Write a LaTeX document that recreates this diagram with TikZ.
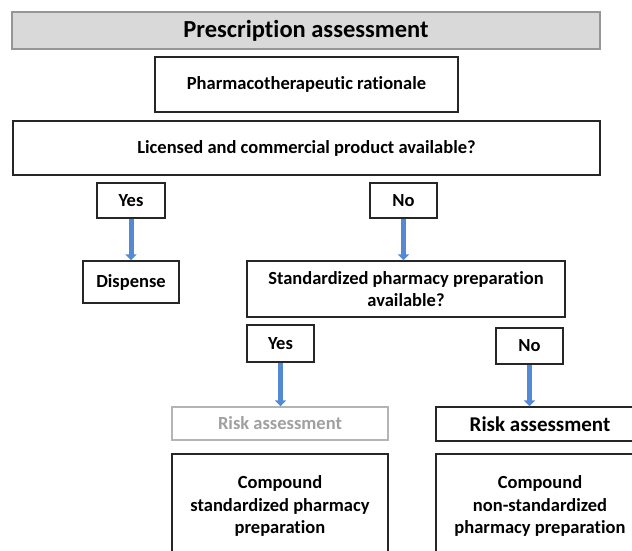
\documentclass[tikz,border=0pt]{standalone}
\usepackage{fontspec}
\setmainfont{Carlito}[Ligatures=NoCommon]
\usetikzlibrary{arrows.meta}
\definecolor{titlefill}{RGB}{217,217,217}
\definecolor{titledraw}{RGB}{150,150,150}
\definecolor{riskgray}{RGB}{180,180,180}
\definecolor{risktext}{RGB}{160,160,160}
\definecolor{arrowblue}{RGB}{84,138,212}
\tikzset{
  box/.style={draw=black!85, line width=1.4pt, fill=white, rectangle, align=center, inner sep=0pt, font=\bfseries},
  flowarrow/.style={draw=arrowblue, line width=5pt, -{Triangle[width=11pt,length=6pt]}, shorten >=0pt},
  mid/.style={font=\bfseries\fontsize{18.5}{22.5}\selectfont},
}
\begin{document}
\begin{tikzpicture}[x=1pt,y=-1pt]
\useasboundingbox (0,0) rectangle (632,550);
\clip (0,0) rectangle (632,550);
\node[box, draw=titledraw, fill=titlefill, line width=1.2pt, minimum width=588pt, minimum height=37pt, font=\bfseries\fontsize{24.5}{28}\selectfont] (title) at (306,30.5) {Prescription assessment};
\node[box, mid, minimum width=303pt, minimum height=55pt] (pharma) at (306.5,84.5) {Pharmacotherapeutic rationale};
\node[box, mid, minimum width=587pt, minimum height=54pt] (lic) at (306.5,148) {Licensed and commercial product available?};
\node[box, mid, minimum width=68pt, minimum height=35pt] (yes1) at (131,200.5) {Yes};
\node[box, mid, minimum width=67pt, minimum height=35pt] (no1) at (403.5,200.5) {No};
\node[box, mid, minimum width=96pt, minimum height=42pt] (disp) at (131,282) {Dispense};
\node[box, mid, minimum width=318pt, minimum height=56pt] (std) at (406,289) {Standardized pharmacy preparation\\available?};
\node[box, mid, minimum width=67pt, minimum height=37pt] (yes2) at (280.5,343.5) {Yes};
\node[box, mid, minimum width=67pt, minimum height=36pt] (no2) at (529.5,346) {No};
\node[box, mid, draw=riskgray, text=risktext, minimum width=216pt, minimum height=33pt] (riskl) at (280,423.5) {Risk assessment};
\node[box, minimum width=208pt, minimum height=34pt, font=\bfseries\fontsize{21}{24}\selectfont] (riskr) at (540,424) {Risk assessment};
\node[box, mid, minimum width=216pt, minimum height=104pt] (compl) at (280,506) {Compound\\standardized pharmacy\\preparation};
\node[box, mid, minimum width=208pt, minimum height=104pt] (compr) at (540,506) {Compound\\non-standardized\\pharmacy preparation};
\draw[flowarrow] (yes1.south) -- (disp.north);
\draw[flowarrow] (no1.south) -- (no1.south |- std.north);
\draw[flowarrow] (yes2.south) -- (yes2.south |- riskl.north);
\draw[flowarrow] (no2.south) -- (no2.south |- riskr.north);
\end{tikzpicture}
\end{document}
